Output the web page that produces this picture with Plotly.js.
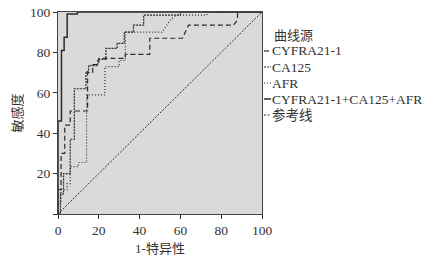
<!DOCTYPE html>
<html><head><meta charset="utf-8">
<script src="https://cdn.plot.ly/plotly-3.0.1.min.js"></script>
<style>html,body{margin:0;padding:0;background:#fff;}</style>
</head><body><div id="chart" style="width:430px;height:259px;"></div>
<script>
// Data, in percent
const seriesNames = ["CYFRA21-1", "CA125", "AFR", "CYFRA21-1+CA125+AFR", "参考线"];
const cyfraX = [0,0,1.5,1.5,3.3,3.3,6,6,14.5,14.5,17,17,20,20,33,33,45,45,61,64,86,88,88,100];
const cyfraY = [0,12,12,30,30,44,44,51,51,70,70,74,74,77,77,79,79,87,87,93.5,93.5,96,100,100];
const ca125X = [0,1.2,1.2,2.7,2.7,6,6,8,8,13.7,13.7,15,15,19.5,19.5,23.5,23.5,29,29,32.5,32.5,37,37,42,42,60,60,100];
const ca125Y = [0,0,10,10,20,20,37,37,62,62,70.5,70.5,73.5,73.5,76.5,76.5,82,82,84.5,84.5,90,90,93.5,93.5,98.5,98.5,100,100];
const afrX = [0,0,1.5,1.5,4.5,4.5,6,6,10,10,14,14,23,23,30,30,33,33,51,53,55,58,73,73,100];
const afrY = [0,5,5,12,12,15,15,23.5,23.5,25.5,25.5,59,59,73,73,76,76,90,90,93,96,98.5,98.5,100,100];
const combX = [0,0,1.7,1.7,3,3,4.5,4.5,9.5,9.5,100];
const combY = [0,46,46,81,81,87.5,87.5,99,99,100,100];
const refX = [0,100];
const refY = [0,100];
const xTicks = [0,20,40,60,80,100];
const yTicks = [0,20,40,60,80,100];
const yTickText = ["","20","40","60","80","100"];
const legendTitle = "曲线源";
const xTitle = "1-特异性";
const yTitle = "敏感度";

const ink = "#2b2b2b";
const dashes = ["5px,3px", "2px,1px", "1px,2px", "solid", "2px,1.5px"];
const widths = [1.2, 1.2, 1.2, 1.5, 1];
const xs = [cyfraX, ca125X, afrX, combX, refX];
const ys = [cyfraY, ca125Y, afrY, combY, refY];

const traces = seriesNames.map((n, i) => ({
  x: xs[i], y: ys[i], name: n, type: "scatter", mode: "lines",
  line: {color: ink, width: widths[i], dash: dashes[i], shape: "linear"},
  showlegend: false, hoverinfo: "skip"
}));

const serif = "'Liberation Serif', 'Times New Roman', serif";
const cjk = "'Liberation Serif', 'Noto Sans CJK SC', serif";

// manual legend (short samples like the reference)
const L = 57.5, R = 262, T = 12, B = 214;
const px2x = p => (p - L) / (R - L);
const px2y = p => (B - p) / (B - T);
const annotations = [
  {xref:"paper", yref:"paper", x: px2x(272), y: px2y(35), xanchor:"left", yanchor:"middle",
   text: legendTitle, showarrow:false, font:{family:cjk, size:13, color:"#333"}}
];
const shapes = [];
const rowY = [51, 67, 83, 99, 115];
seriesNames.forEach((n, i) => {
  annotations.push({xref:"paper", yref:"paper", x: px2x(270), y: px2y(rowY[i]), xanchor:"left", yanchor:"middle",
    text: n, showarrow:false, font:{family:cjk, size:13.5, color:"#333"}});
  shapes.push({type:"line", xref:"paper", yref:"paper", x0: px2x(264), x1: px2x(271),
    y0: px2y(rowY[i]), y1: px2y(rowY[i]), line:{color: ink, width: widths[i], dash: dashes[i]}});
});

const layout = {
  width: 430, height: 259,
  margin: {l: 57.5, r: 168, t: 12, b: 45, pad: 0},
  paper_bgcolor: "#ffffff", plot_bgcolor: "#dadada",
  showlegend: false,
  font: {family: serif, size: 13, color: "#333"},
  xaxis: {range: [0, 100], tickvals: xTicks, ticks: "outside", ticklen: 4, tickcolor: "#333",
    showgrid: false, zeroline: false, showline: true, linecolor: "#444", linewidth: 1, mirror: true,
    tickfont: {family: serif, size: 13.5, color: "#333"},
    title: {text: xTitle, font: {family: cjk, size: 13, color: "#333"}, standoff: 6}},
  yaxis: {range: [0, 100], tickvals: yTicks, ticktext: yTickText, ticks: "outside", ticklen: 4, tickcolor: "#333",
    showgrid: false, zeroline: false, showline: true, linecolor: "#444", linewidth: 1, mirror: true,
    tickfont: {family: serif, size: 13.5, color: "#333"},
    title: {text: yTitle, font: {family: cjk, size: 13, color: "#333"}, standoff: 4}},
  annotations: annotations,
  shapes: shapes
};
Plotly.newPlot("chart", traces, layout, {staticPlot: true, displayModeBar: false});
</script></body></html>
